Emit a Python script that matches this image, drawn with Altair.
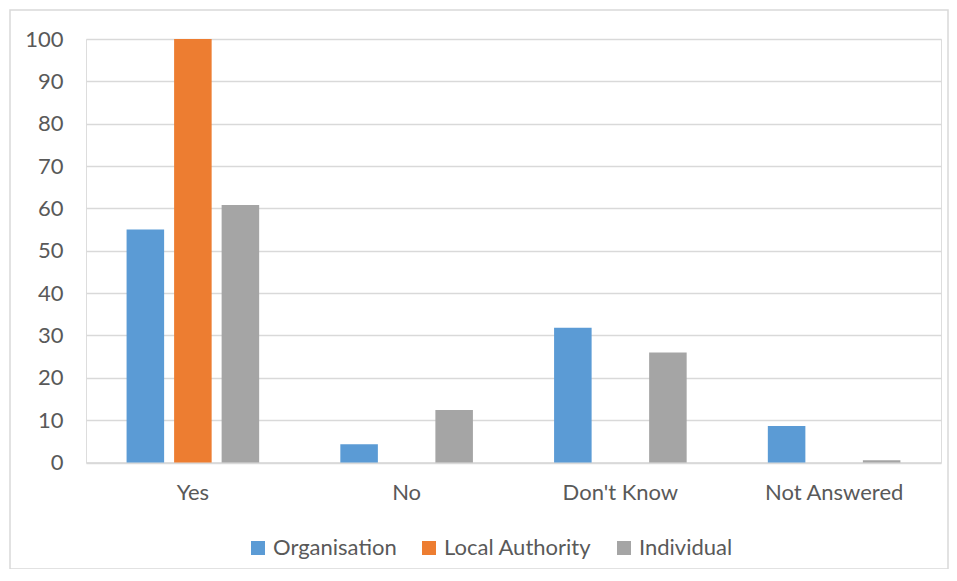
import altair as alt
import pandas as pd

categories = ["Yes", "No", "Don't Know", "Not Answered"]
series = ["Organisation", "Local Authority", "Individual"]
organisation = [55, 4.3, 31.8, 8.6]
local_authority = [100, 0, 0, 0]
individual = [60.8, 12.4, 26.0, 0.55]
colors = ["#5B9BD5", "#ED7D31", "#A5A5A5"]

rows = []
for s, vals in zip(series, [organisation, local_authority, individual]):
    for c, v in zip(categories, vals):
        rows.append({"category": c, "series": s, "value": v})
df = pd.DataFrame(rows)

FONT = "Lato"
TXT = "#595959"
GRID = "#D9D9D9"
FS = 22

bars = alt.Chart(df).mark_bar().encode(
    x=alt.X("category:N", sort=categories, title=None,
            scale=alt.Scale(paddingInner=0.333, paddingOuter=0.1665),
            axis=alt.Axis(labelAngle=0, labelFont=FONT, labelFontSize=FS,
                          labelColor=TXT, ticks=False, domainColor=GRID,
                          domainWidth=1.5, labelPadding=20)),
    xOffset=alt.XOffset("series:N", sort=series,
                        scale=alt.Scale(paddingInner=0.21, paddingOuter=0.105)),
    y=alt.Y("value:Q", title=None,
            scale=alt.Scale(domain=[0, 100], nice=False),
            axis=alt.Axis(values=list(range(0, 101, 10)), labelFont=FONT,
                          labelFontSize=FS, labelColor=TXT, ticks=False,
                          domain=False, gridColor=GRID, gridWidth=1.5,
                          labelPadding=23)),
    color=alt.Color("series:N", sort=series,
                    scale=alt.Scale(domain=series, range=colors),
                    legend=alt.Legend(title=None, orient="none", direction="horizontal",
                                      legendX=161, legendY=498,
                                      symbolType="square", symbolSize=196,
                                      symbolStrokeWidth=0,
                                      labelFont=FONT, labelFontSize=FS,
                                      labelColor=TXT, labelOffset=4,
                                      columnPadding=21)),
)

frame = alt.Chart(pd.DataFrame({"a": [0]})).mark_rect(
    fill=None, stroke=GRID, strokeWidth=1.5
).encode(x=alt.value(-76), x2=alt.value(862), y=alt.value(-29), y2=alt.value(530))

chart = alt.layer(frame, bars).properties(
    width=855, height=423.5,
    autosize=alt.AutoSizeParams(type="none"),
    padding={"left": 78, "top": 31, "right": 8, "bottom": 106},
).configure_view(stroke=None).configure(background="white")

chart.save("out.html", embed_options={"renderer": "svg", "actions": False})
